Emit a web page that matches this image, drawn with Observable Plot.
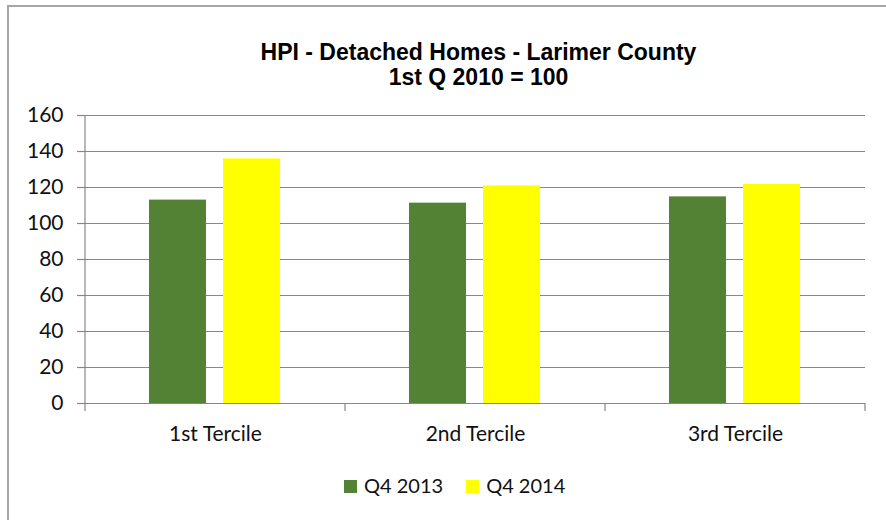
<!DOCTYPE html>
<html>
<head>
<meta charset="utf-8">
<script src="https://cdn.jsdelivr.net/npm/d3@7"></script>
<script src="https://cdn.jsdelivr.net/npm/@observablehq/plot@0.6"></script>
<style>
  html, body { margin: 0; padding: 0; background: #fff; width: 886px; height: 520px; overflow: hidden; position: relative; }
  #frame { position: absolute; left: 7px; top: 5px; width: 920px; height: 560px; border: 2px solid #a6a6a6; box-sizing: border-box; }
  #title { position: absolute; left: 0; top: 40px; width: 957px; text-align: center; font-family: "Liberation Sans", Arial, sans-serif; font-weight: bold; font-size: 23px; line-height: 25px; color: #000; }
  #chart { position: absolute; left: 0; top: 100px; }
  #legend { position: absolute; left: 344px; top: 473px; font-family: Lato, sans-serif; font-size: 20px; line-height: 24px; color: #111; white-space: nowrap; }
  #legend .sw { display: inline-block; width: 13px; height: 13px; margin-right: 7px; }
  #legend .item { margin-right: 23px; }
</style>
</head>
<body>
<div id="frame"></div>
<div id="title">HPI - Detached Homes - Larimer County<br>1st Q 2010 = 100</div>
<div id="chart"></div>
<div id="legend"></div>
<script>
const categories = ["1st Tercile", "2nd Tercile", "3rd Tercile"];
const seriesNames = ["Q4 2013", "Q4 2014"];
const q4_2013 = [113.0, 111.3, 114.8];
const q4_2014 = [135.9, 120.9, 121.7];
const yTicks = [0, 20, 40, 60, 80, 100, 120, 140, 160];
const colors = ["#548235", "#ffff00"];

const seriesValues = [q4_2013, q4_2014];
const data = [];
categories.forEach((c, i) => {
  seriesNames.forEach((s, j) => data.push({category: c, series: s, value: seriesValues[j][i]}));
});

const chart = Plot.plot({
  width: 886,
  height: 350,
  marginTop: 15,
  marginBottom: 47,
  marginLeft: 84,
  marginRight: 20,
  style: {fontFamily: "Lato, sans-serif", fontSize: "21px", color: "#111", background: "transparent"},
  fx: {domain: categories, padding: 0, label: null},
  x: {domain: seriesNames, paddingInner: 0.227, paddingOuter: 0.852, axis: null},
  y: {domain: [0, 160], label: null},
  color: {domain: seriesNames, range: colors},
  marks: [
    Plot.gridY(yTicks, {stroke: "#878787", strokeOpacity: 1, strokeWidth: 1.2}),
    Plot.barY(data, {fx: "category", x: "series", y: "value", fill: "series"}),
    Plot.axisY(yTicks, {anchor: "left", tickSize: 8, tickPadding: 14, stroke: "#878787", strokeWidth: 1.2, fill: "#111", fontSize: 21, label: null}),
    Plot.axisFx({anchor: "bottom", tickSize: 0, tickPadding: 23, fill: "#111", fontSize: 21, label: null})
  ]
});
document.getElementById("chart").appendChild(chart);

// Category-boundary ticks and the y-axis line, placed from the plot's own scales
const fx = chart.scale("fx");
const y = chart.scale("y");
const svg = d3.select(chart);
const bounds = categories.map(c => fx.apply(c));
bounds.push(fx.apply(categories[categories.length - 1]) + fx.bandwidth);
const y0 = y.apply(0);
const yTop = y.apply(160);
const g = svg.append("g").attr("stroke", "#878787").attr("stroke-width", 1.2);
g.append("line").attr("x1", bounds[0]).attr("x2", bounds[0]).attr("y1", yTop).attr("y2", y0);
g.selectAll("line.b").data(bounds).join("line").attr("class", "b")
  .attr("x1", d => d).attr("x2", d => d).attr("y1", y0).attr("y2", y0 + 8);

// Legend
const legend = d3.select("#legend");
seriesNames.forEach((s, j) => {
  const it = legend.append("span").attr("class", "item");
  it.append("span").attr("class", "sw").style("background", colors[j]);
  it.append("span").text(s);
});
</script>
</body>
</html>
